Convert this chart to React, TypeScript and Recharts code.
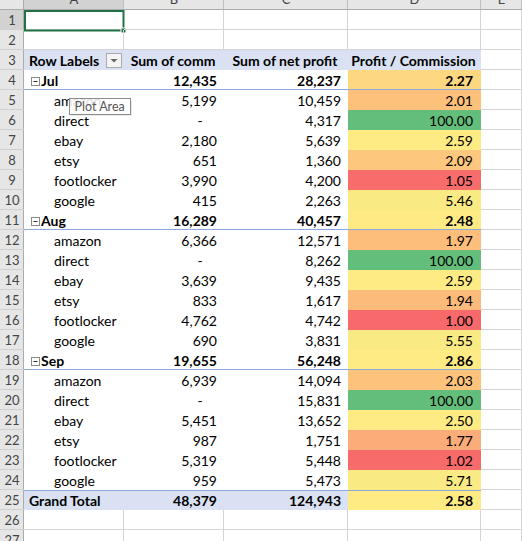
import { Bar, BarChart, XAxis, YAxis } from "recharts";

const months = ["Jul", "Aug", "Sep"];
const channels = ["amazon", "direct", "ebay", "etsy", "footlocker", "google"];
const headers = ["Row Labels", "Sum of comm", "Sum of net profit", "Profit / Commission"];
const colLetters = ["A", "B", "C", "D", "E"];

const commJul = [5199, null, 2180, 651, 3990, 415];
const commAug = [6366, null, 3639, 833, 4762, 690];
const commSep = [6939, null, 5451, 987, 5319, 959];
const profitJul = [10459, 4317, 5639, 1360, 4200, 2263];
const profitAug = [12571, 8262, 9435, 1617, 4742, 3831];
const profitSep = [14094, 15831, 13652, 1751, 5448, 5473];
const ratioJul = [2.01, 100, 2.59, 2.09, 1.05, 5.46];
const ratioAug = [1.97, 100, 2.59, 1.94, 1.0, 5.55];
const ratioSep = [2.03, 100, 2.5, 1.77, 1.02, 5.71];

const monthComm = [12435, 16289, 19655];
const monthProfit = [28237, 40457, 56248];
const monthRatio = [2.27, 2.48, 2.86];

const grandComm = 48379;
const grandProfit = 124943;
const grandRatio = 2.58;

// sheet geometry (pixels)
const colWidths = { hdr: 24, A: 100, B: 100, C: 124, D: 133, E: 41 };
const ROWS = 28;
const ROW_H = 20;

const FONT = "Lato, 'Open Sans', sans-serif";
const GRID = "#D4D4D4";
const PIVOT_FILL = "#D9E1F2";
const PIVOT_LINE = "#8EA9DB";

const comms = [commJul, commAug, commSep];
const profits = [profitJul, profitAug, profitSep];
const ratios = [ratioJul, ratioAug, ratioSep];

// 3-colour scale: min red, 50th percentile yellow, max green
const allRatios = [...ratioJul, ...ratioAug, ...ratioSep, ...monthRatio, grandRatio].sort((a, b) => a - b);
const lo = allRatios[0];
const hi = allRatios[allRatios.length - 1];
const pos = (allRatios.length - 1) / 2;
const mid = allRatios[Math.floor(pos)] + (allRatios[Math.ceil(pos)] - allRatios[Math.floor(pos)]) * (pos - Math.floor(pos));
const RED = [248, 105, 107];
const YELLOW = [255, 235, 132];
const GREEN = [99, 190, 123];
const mix = (a: number[], b: number[], t: number) =>
  `rgb(${a.map((v, k) => Math.round(v + (b[k] - v) * Math.max(0, Math.min(1, t)))).join(",")})`;
const heat = (v: number) => (v <= mid ? mix(RED, YELLOW, (v - lo) / (mid - lo)) : mix(YELLOW, GREEN, (v - mid) / (hi - mid)));

const fmt = (v: number) => v.toLocaleString("en-US");

type Row = { i: number; kind: string; label?: string; comm?: number | null; profit?: number; ratio?: number };
const rows: Row[] = [{ i: 0, kind: "letters" }, { i: 1, kind: "blank" }, { i: 2, kind: "blank" }, { i: 3, kind: "header" }];
months.forEach((m, mi) => {
  rows.push({ i: rows.length, kind: "month", label: m, comm: monthComm[mi], profit: monthProfit[mi], ratio: monthRatio[mi] });
  channels.forEach((c, ci) => {
    rows.push({ i: rows.length, kind: "item", label: c, comm: comms[mi][ci], profit: profits[mi][ci], ratio: ratios[mi][ci] });
  });
});
rows.push({ i: rows.length, kind: "total", label: "Grand Total", comm: grandComm, profit: grandProfit, ratio: grandRatio });
while (rows.length < ROWS) rows.push({ i: rows.length, kind: "blank" });

const data = rows.map((r) => ({ ...r, ...colWidths }));

function Txt({ x, y, children, anchor = "start", bold = false, size = 14, color = "#000" }: any) {
  return (
    <text x={x} y={y} textAnchor={anchor} fontFamily={FONT} fontSize={size} fontWeight={bold ? 700 : 400} fill={color}>
      {children}
    </text>
  );
}

function cellShape(col: string) {
  return (p: any) => {
    const { x, y, width: w, height: h, payload: r } = p;
    const base = y + 15.5;
    const right = x + w - 7;
    const parts: any[] = [];

    if (col === "hdr") {
      parts.push(<rect key="bg" x={x} y={y} width={w} height={h} fill={r.i === 1 ? "#D2D2D2" : "#E6E6E6"} />);
      parts.push(<line key="r" x1={x + w - 0.5} x2={x + w - 0.5} y1={y} y2={y + h} stroke="#ABABAB" />);
      parts.push(<line key="b" x1={x} x2={x + w} y1={y + h - 0.5} y2={y + h - 0.5} stroke={r.i === 0 ? "#ABABAB" : "#D0D0D0"} />);
      if (r.i > 0) parts.push(<Txt key="t" x={x + w / 2} y={base - 1} anchor="middle" size={13} color="#444">{r.i}</Txt>);
      return <g>{parts}</g>;
    }

    const ci = ["A", "B", "C", "D", "E"].indexOf(col);
    if (r.kind === "letters") {
      parts.push(<rect key="bg" x={x} y={y} width={w} height={h} fill={col === "A" ? "#D2D2D2" : "#E6E6E6"} />);
      parts.push(<line key="r" x1={x + w - 0.5} x2={x + w - 0.5} y1={y} y2={y + h} stroke="#C0C0C0" />);
      parts.push(<line key="b" x1={x} x2={x + w} y1={y + h - 0.5} y2={y + h - 0.5} stroke="#ABABAB" />);
      parts.push(<Txt key="t" x={x + w / 2} y={y + 14} anchor="middle" size={13} color="#444">{colLetters[ci]}</Txt>);
      return <g>{parts}</g>;
    }

    const inPivot = r.i >= 3 && r.i <= 25 && col !== "E";
    if (!inPivot) {
      parts.push(<line key="r" x1={x + w - 0.5} x2={x + w - 0.5} y1={y} y2={y + h} stroke={GRID} />);
      parts.push(<line key="b" x1={x} x2={x + w} y1={y + h - 0.5} y2={y + h - 0.5} stroke={GRID} />);
    }

    if (col === "A" && r.i === 1) {
      parts.push(<rect key="sel" x={x + 1} y={y + 1} width={w - 1.5} height={h - 0.5} fill="none" stroke="#217346" strokeWidth={2} />);
      parts.push(<rect key="hd" x={x + w - 3} y={y + h - 2} width={5} height={5} fill="#217346" stroke="#fff" strokeWidth={1} />);
    }

    if (r.kind === "header" && col !== "E") {
      parts.push(<rect key="bg" x={x} y={y} width={w} height={h} fill={PIVOT_FILL} />);
      if (col === "A") {
        parts.push(<Txt key="t" x={x + 5} y={base} bold>{headers[0]}</Txt>);
        parts.push(<rect key="dd" x={x + w - 17.5} y={y + 3.5} width={15} height={14} fill="#F4F4F4" stroke="#ABABAB" />);
        parts.push(<path key="ar" d={`M${x + w - 13.5},${y + 9} l7,0 l-3.5,3.5 z`} fill="#666" />);
      } else {
        parts.push(<Txt key="t" x={x + w / 2 - 1} y={base} anchor="middle" bold>{headers[ci]}</Txt>);
      }
    }

    if ((r.kind === "month" || r.kind === "item" || r.kind === "total") && col !== "E") {
      const bold = r.kind !== "item";
      if (r.kind === "total" && col !== "D") parts.push(<rect key="bg" x={x} y={y} width={w} height={h} fill={PIVOT_FILL} />);
      if (col === "D") parts.push(<rect key="bg" x={x} y={y} width={w} height={h} fill={heat(r.ratio)} />);
      if (col === "A") {
        if (r.kind === "month") {
          parts.push(<rect key="ic" x={x + 7.5} y={y + 7.5} width={8} height={8} fill="#fff" stroke="#8A8A8A" />);
          parts.push(<line key="mn" x1={x + 9.5} x2={x + 13.5} y1={y + 11.5} y2={y + 11.5} stroke="#333" />);
          parts.push(<Txt key="t" x={x + 17} y={base} bold>{r.label}</Txt>);
        } else if (r.kind === "item") {
          parts.push(<Txt key="t" x={x + 30} y={base}>{r.label}</Txt>);
        } else {
          parts.push(<Txt key="t" x={x + 5} y={base} bold>{r.label}</Txt>);
        }
      }
      if (col === "B") {
        if (r.comm == null) parts.push(<Txt key="t" x={x + w - 24} y={base} anchor="middle">-</Txt>);
        else parts.push(<Txt key="t" x={right} y={base} anchor="end" bold={bold}>{fmt(r.comm)}</Txt>);
      }
      if (col === "C") parts.push(<Txt key="t" x={right} y={base} anchor="end" bold={bold}>{fmt(r.profit)}</Txt>);
      if (col === "D") parts.push(<Txt key="t" x={right - 1} y={base} anchor="end" bold={bold}>{r.ratio.toFixed(2)}</Txt>);
      if (r.kind === "month") parts.push(<line key="ml" x1={x} x2={x + w} y1={y + h - 0.5} y2={y + h - 0.5} stroke={PIVOT_LINE} />);
      if (r.kind === "total") parts.push(<line key="tl" x1={x} x2={x + w} y1={y + 0.5} y2={y + 0.5} stroke={PIVOT_LINE} />);
    }

    if (col === "A" && r.i === 5) {
      parts.push(<rect key="sh" x={x + 47} y={y + 10} width={61} height={16} fill="#000" opacity={0.08} />);
      parts.push(<rect key="tt" x={x + 45.5} y={y + 8.5} width={61} height={16} fill="#fff" fillOpacity={0.88} stroke="#8C8C8C" />);
      parts.push(<Txt key="tx" x={x + 50.5} y={y + 21} size={12.5} color="#575757">Plot Area</Txt>);
    }

    return <g>{parts}</g>;
  };
}

const cols = ["hdr", "A", "B", "C", "D", "E"];

export default function App() {
  const totalW = Object.values(colWidths).reduce((a, b) => a + b, 0);
  return (
    <div style={{ position: "fixed", left: 0, top: 0, width: 522, height: 541, overflow: "hidden", background: "#fff" }}>
      <div style={{ marginTop: -10 }}>
        <BarChart
          width={522}
          height={ROWS * ROW_H}
          data={data}
          layout="vertical"
          margin={{ top: 0, right: 0, bottom: 0, left: 0 }}
          barCategoryGap={0}
          barGap={0}
        >
          <XAxis type="number" domain={[0, totalW]} allowDataOverflow hide />
          <YAxis type="category" dataKey="i" hide />
          {cols.map((c) => (
            <Bar key={c} dataKey={c} stackId="sheet" isAnimationActive={false} shape={cellShape(c)} />
          ))}
        </BarChart>
      </div>
    </div>
  );
}
